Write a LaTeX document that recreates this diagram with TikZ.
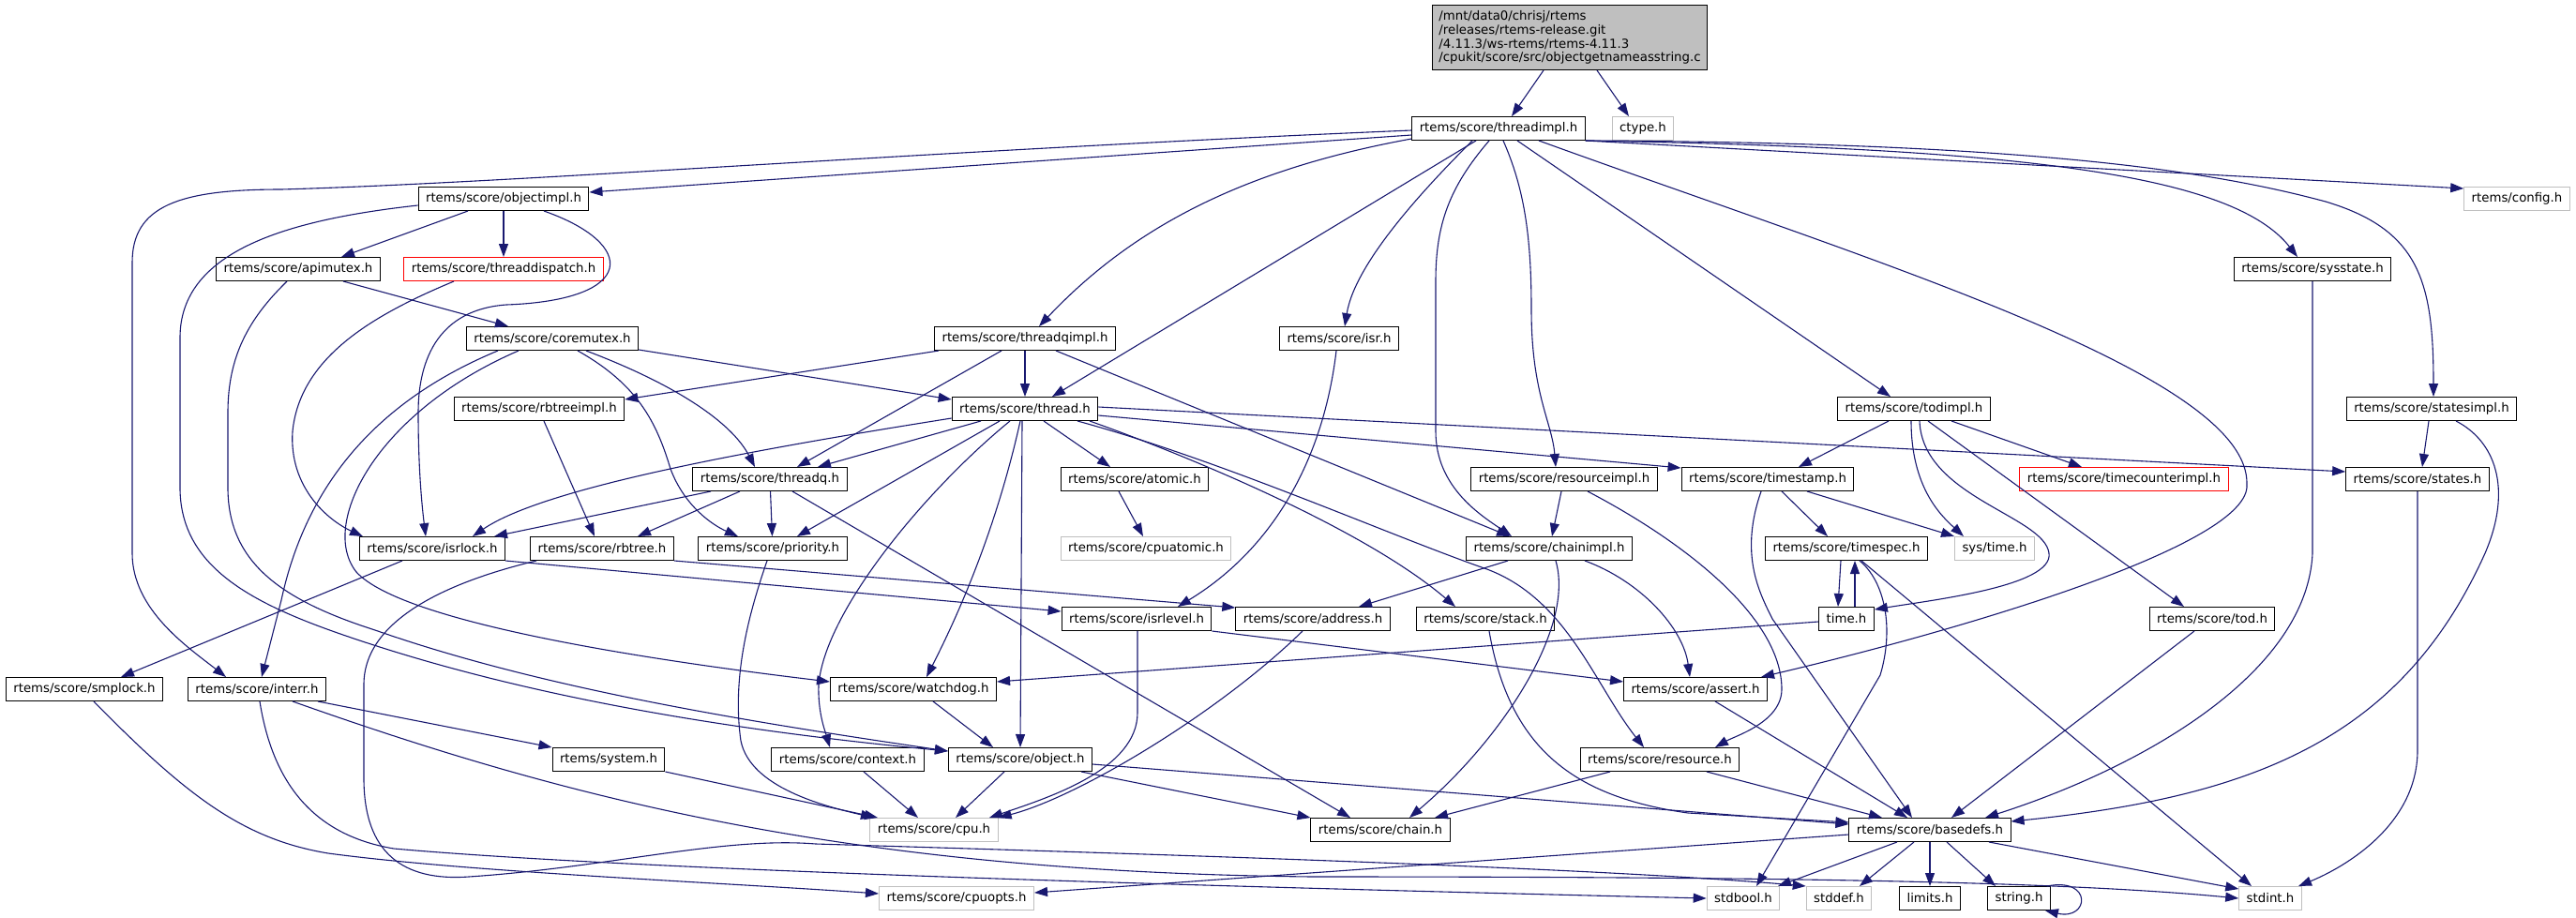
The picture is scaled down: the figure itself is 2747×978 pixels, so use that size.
\documentclass[tikz,border=0pt]{standalone}
\usepackage{fontspec}
\setmainfont{DejaVu Sans}
\usetikzlibrary{arrows.meta}
\definecolor{navyedge}{HTML}{191970}
\begin{document}
\begin{tikzpicture}[x=1pt,y=1pt]
\tikzset{
  hfile/.style={draw=black, fill=white, line width=1pt, inner xsep=8pt, inner ysep=0pt,
    minimum height=25pt, font=\fontsize{13.3}{15}\selectfont},
  extfile/.style={hfile, draw=black!25},
  cutfile/.style={hfile, draw=red},
  rootfile/.style={hfile, fill=black!25, align=left, inner xsep=7pt, minimum height=69pt,
    font=\fontsize{13.3}{14.8}\selectfont},
  incl/.style={draw=navyedge, line width=1.1pt, -{Triangle[length=14pt,width=10pt]}}
}
\useasboundingbox (0,0) rectangle (2747,-978);

% les fichiers
  \node[rootfile] (root) at (1674,-40) {/mnt/data0/chrisj/rtems\\/releases/rtems-release.git\\/4.11.3/ws-rtems/rtems-4.11.3\\/cpukit/score/src/objectgetnameasstring.c};
  \node[hfile] (threadimpl) at (1598,-137) {rtems/score/threadimpl.h};
  \node[extfile] (ctype) at (1752,-137) {ctype.h};
  \node[hfile] (objectimpl) at (537,-212) {rtems/score/objectimpl.h};
  \node[extfile] (config) at (2684,-212) {rtems/config.h};
  \node[hfile] (apimutex) at (318,-287) {rtems/score/apimutex.h};
  \node[cutfile] (threaddispatch) at (537,-287) {rtems/score/threaddispatch.h};
  \node[hfile] (sysstate) at (2466,-287) {rtems/score/sysstate.h};
  \node[hfile] (coremutex) at (589,-361) {rtems/score/coremutex.h};
  \node[hfile] (threadqimpl) at (1093,-361) {rtems/score/threadqimpl.h};
  \node[hfile] (isr) at (1428,-361) {rtems/score/isr.h};
  \node[hfile] (rbtreeimpl) at (575,-436) {rtems/score/rbtreeimpl.h};
  \node[hfile] (thread) at (1093,-436) {rtems/score/thread.h};
  \node[hfile] (todimpl) at (2041,-436) {rtems/score/todimpl.h};
  \node[hfile] (statesimpl) at (2593,-436) {rtems/score/statesimpl.h};
  \node[hfile] (threadq) at (821,-511) {rtems/score/threadq.h};
  \node[hfile] (atomic) at (1210,-511) {rtems/score/atomic.h};
  \node[hfile] (resourceimpl) at (1668,-511) {rtems/score/resourceimpl.h};
  \node[hfile] (timestamp) at (1885,-511) {rtems/score/timestamp.h};
  \node[cutfile] (timecounterimpl) at (2265,-511) {rtems/score/timecounterimpl.h};
  \node[hfile] (states) at (2578,-511) {rtems/score/states.h};
  \node[hfile] (isrlock) at (461,-585) {rtems/score/isrlock.h};
  \node[hfile] (rbtree) at (642,-585) {rtems/score/rbtree.h};
  \node[hfile] (priority) at (824,-585) {rtems/score/priority.h};
  \node[extfile] (cpuatomic) at (1222,-585) {rtems/score/cpuatomic.h};
  \node[hfile] (chainimpl) at (1652,-585) {rtems/score/chainimpl.h};
  \node[hfile] (timespec) at (1969,-585) {rtems/score/timespec.h};
  \node[extfile] (systime) at (2127,-585) {sys/time.h};
  \node[hfile] (isrlevel) at (1212,-660) {rtems/score/isrlevel.h};
  \node[hfile] (address) at (1400,-660) {rtems/score/address.h};
  \node[hfile] (stack) at (1584,-660) {rtems/score/stack.h};
  \node[hfile] (time) at (1969,-660) {time.h};
  \node[hfile] (tod) at (2359,-660) {rtems/score/tod.h};
  \node[hfile] (smplock) at (90,-735) {rtems/score/smplock.h};
  \node[hfile] (interr) at (274,-735) {rtems/score/interr.h};
  \node[hfile] (watchdog) at (974,-735) {rtems/score/watchdog.h};
  \node[hfile] (assert) at (1808,-735) {rtems/score/assert.h};
  \node[hfile] (system) at (649,-810) {rtems/system.h};
  \node[hfile] (context) at (904,-810) {rtems/score/context.h};
  \node[hfile] (object) at (1088,-810) {rtems/score/object.h};
  \node[hfile] (resource) at (1770,-810) {rtems/score/resource.h};
  \node[extfile] (cpu) at (996,-885) {rtems/score/cpu.h};
  \node[hfile] (chain) at (1472,-885) {rtems/score/chain.h};
  \node[hfile] (basedefs) at (2058,-885) {rtems/score/basedefs.h};
  \node[extfile] (cpuopts) at (1020,-958) {rtems/score/cpuopts.h};
  \node[extfile] (stdbool) at (1859,-958) {stdbool.h};
  \node[extfile] (stddef) at (1961,-958) {stddef.h};
  \node[hfile] (limits) at (2058,-958) {limits.h};
  \node[hfile] (string) at (2153,-958) {string.h};
  \node[extfile] (stdint) at (2421,-958) {stdint.h};

% le fichier source
  \draw[incl] ([xshift=-28pt]root.south) -- ([xshift=14pt]threadimpl.north);
  \draw[incl] ([xshift=29pt]root.south) -- ([xshift=-15pt]ctype.north);

% threadimpl.h
  \draw[incl] ([yshift=-7pt]threadimpl.west) -- ([yshift=7pt]objectimpl.east);
  \draw[incl] ([yshift=-2pt]threadimpl.west) .. controls (1000,-160) and (550,-195) .. (300,-202)
    .. controls (190,-202) and (141,-220) .. (141,-280) -- (141,-590)
    .. controls (141,-650) and (200,-690) .. ([xshift=-33pt]interr.north);
  \draw[incl] ([yshift=-11pt]threadimpl.west) .. controls (1330,-180) and (1210,-240) .. ([xshift=15pt]threadqimpl.north);
  \draw[incl] ([xshift=-24pt]threadimpl.south) -- ([xshift=29pt]thread.north);
  \draw[incl] ([xshift=-28pt]threadimpl.south) .. controls (1520,-200) and (1445,-280) .. ([xshift=6pt]isr.north);
  \draw[incl] ([xshift=-10pt]threadimpl.south) .. controls (1545,-200) and (1531,-240) .. (1531,-300) -- (1531,-460)
    .. controls (1531,-520) and (1580,-550) .. ([xshift=-40pt]chainimpl.north);
  \draw[incl] ([xshift=5pt]threadimpl.south) .. controls (1625,-200) and (1633,-250) .. (1633,-330)
    .. controls (1633,-420) and (1655,-450) .. ([xshift=-9pt]resourceimpl.north);
  \draw[incl] ([xshift=20pt]threadimpl.south) -- ([xshift=-25pt]todimpl.north);
  \draw[incl] ([xshift=43pt]threadimpl.south) .. controls (2000,-280) and (2400,-400) .. (2396,-517)
    .. controls (2400,-580) and (2100,-670) .. ([xshift=70pt]assert.north);
  \draw[incl] (threadimpl.south east) -- ([yshift=11pt]config.west);
  \draw[incl] (threadimpl.south east) .. controls (2150,-158) and (2380,-185) .. ([xshift=-16pt]sysstate.north);
  \draw[incl] (threadimpl.south east) .. controls (2150,-152) and (2350,-180) .. (2480,-215)
    .. controls (2580,-245) and (2595,-300) .. ([xshift=2pt]statesimpl.north);

% objectimpl.h, apimutex.h, threaddispatch.h
  \draw[incl] ([xshift=-38pt]objectimpl.south) -- ([xshift=46pt]apimutex.north);
  \draw[incl] (objectimpl) -- (threaddispatch);
  \draw[incl] ([xshift=43pt]objectimpl.south) .. controls (680,-260) and (680,-320) .. (540,-325)
    .. controls (470,-330) and (446,-380) .. (446,-440) .. controls (446,-500) and (450,-540) .. ([xshift=-7pt]isrlock.north);
  \draw[incl] ([yshift=-7pt]objectimpl.west) .. controls (300,-235) and (192,-270) .. (192,-360) -- (192,-520)
    .. controls (192,-600) and (260,-640) .. (360,-675) .. controls (560,-745) and (790,-780) .. ([yshift=9pt]object.west);
  \draw[incl] ([xshift=48pt]apimutex.south) -- ([xshift=-47pt]coremutex.north);
  \draw[incl] ([xshift=-12pt]apimutex.south) .. controls (265,-340) and (243,-380) .. (243,-440) -- (243,-520)
    .. controls (243,-600) and (300,-640) .. (400,-672) .. controls (580,-735) and (800,-770) .. ([yshift=9pt]object.west);
  \draw[incl] ([xshift=-53pt]threaddispatch.south) .. controls (400,-335) and (320,-380) .. (312,-460)
    .. controls (308,-520) and (350,-555) .. ([xshift=-74pt]isrlock.north);

% coremutex.h, threadqimpl.h, rbtreeimpl.h
  \draw[incl] ([xshift=-58pt]coremutex.south) .. controls (420,-420) and (330,-500) .. (300,-640) -- ([xshift=5pt]interr.north);
  \draw[incl] ([xshift=-36pt]coremutex.south) .. controls (400,-440) and (340,-560) .. (380,-610)
    .. controls (430,-665) and (700,-705) .. ([yshift=8pt]watchdog.west);
  \draw[incl] ([yshift=-12pt]coremutex.east) -- ([yshift=10pt]thread.west);
  \draw[incl] ([xshift=36pt]coremutex.south) .. controls (720,-410) and (780,-450) .. ([xshift=-16pt]threadq.north);
  \draw[incl] ([xshift=27pt]coremutex.south) .. controls (680,-410) and (700,-450) .. (715,-500)
    .. controls (730,-540) and (760,-560) .. ([xshift=-37pt]priority.north);
  \draw[incl] ([xshift=5pt]threadqimpl.south west) -- ([yshift=10pt]rbtreeimpl.east);
  \draw[incl] ([xshift=-25pt]threadqimpl.south) -- ([xshift=29pt]threadq.north);
  \draw[incl] (threadqimpl) -- (thread);
  \draw[incl] ([xshift=33pt]threadqimpl.south) -- ([xshift=-42pt]chainimpl.north);
  \draw[incl] ([xshift=5pt]rbtreeimpl.south) -- ([xshift=-8pt]rbtree.north);

% thread.h
  \draw[incl] ([yshift=-10pt]thread.west) .. controls (800,-480) and (580,-520) .. ([xshift=43pt]isrlock.north);
  \draw[incl] ([xshift=-47pt]thread.south) -- ([xshift=51pt]threadq.north);
  \draw[incl] ([xshift=-27pt]thread.south) -- ([xshift=26pt]priority.north);
  \draw[incl] ([xshift=20pt]thread.south) -- ([xshift=-26pt]atomic.north);
  \draw[incl] ([xshift=-16pt]thread.south) .. controls (990,-520) and (880,-650) .. (873,-730)
    .. controls (872,-760) and (880,-780) .. ([xshift=-19pt]context.north);
  \draw[incl] ([xshift=-5pt]thread.south) .. controls (1070,-530) and (1040,-620) .. ([xshift=14pt]watchdog.north);
  \draw[incl] ([xshift=-3pt]thread.south) -- (object.north);
  \draw[incl] ([yshift=2pt]thread.east) -- ([yshift=8pt]states.west);
  \draw[incl] ([yshift=-7pt]thread.east) -- ([yshift=12pt]timestamp.west);
  \draw[incl] ([xshift=56pt]thread.south) .. controls (1300,-490) and (1480,-570) .. (1580,-605)
    .. controls (1670,-635) and (1700,-730) .. ([xshift=-17pt]resource.north);
  \draw[incl] ([xshift=69pt]thread.south) .. controls (1250,-480) and (1450,-560) .. ([xshift=-32pt]stack.north);

% threadq.h, atomic.h, isr.h
  \draw[incl] ([xshift=-63pt]threadq.south) -- ([xshift=66pt]isrlock.north);
  \draw[incl] ([xshift=-32pt]threadq.south) -- ([xshift=38pt]rbtree.north);
  \draw[incl] (threadq) -- (priority);
  \draw[incl] ([xshift=24pt]threadq.south) -- ([xshift=-32pt]chain.north);
  \draw[incl] ([xshift=-17pt]atomic.south) -- ([xshift=-3pt]cpuatomic.north);
  \draw[incl] ([xshift=-3pt]isr.south) .. controls (1410,-500) and (1350,-590) .. ([xshift=44pt]isrlevel.north);

% isrlock.h, rbtree.h, priority.h
  \draw[incl] ([xshift=-32pt]isrlock.south) -- ([xshift=39pt]smplock.north);
  \draw[incl] (isrlock.south east) -- ([yshift=8pt]isrlevel.west);
  \draw[incl] (rbtree.south east) -- ([yshift=12pt]address.west);
  \draw[incl] ([xshift=-70pt]rbtree.south) .. controls (480,-620) and (388,-660) .. (388,-730) -- (388,-830)
    .. controls (388,-910) and (430,-940) .. (500,-935) .. controls (650,-925) and (770,-892) .. (870,-900)
    .. controls (1200,-910) and (1700,-925) .. (stddef.north west);
  \draw[incl] ([xshift=-6pt]priority.south) .. controls (800,-650) and (780,-720) .. (790,-790)
    .. controls (800,-840) and (880,-860) .. ([xshift=-64pt]cpu.north);

% resourceimpl.h, chainimpl.h
  \draw[incl] ([xshift=-3pt]resourceimpl.south) -- ([xshift=3pt]chainimpl.north);
  \draw[incl] ([xshift=25pt]resourceimpl.south) .. controls (1800,-580) and (1900,-660) .. (1900,-735)
    .. controls (1900,-770) and (1850,-785) .. ([xshift=59pt]resource.north);
  \draw[incl] ([xshift=-44pt]chainimpl.south) -- ([xshift=49pt]address.north);
  \draw[incl] ([xshift=7pt]chainimpl.south) .. controls (1680,-670) and (1600,-790) .. ([xshift=31pt]chain.north);
  \draw[incl] ([xshift=38pt]chainimpl.south) .. controls (1750,-620) and (1795,-670) .. ([xshift=-6pt]assert.north);

% todimpl.h, timestamp.h, timespec.h
  \draw[incl] ([xshift=-27pt]todimpl.south) -- ([xshift=33pt]timestamp.north);
  \draw[incl] ([xshift=40pt]todimpl.south) -- ([xshift=-45pt]timecounterimpl.north);
  \draw[incl] ([xshift=-3pt]todimpl.south) .. controls (2038,-520) and (2070,-550) .. ([xshift=-33pt]systime.north);
  \draw[incl] ([xshift=6pt]todimpl.south) .. controls (2050,-530) and (2180,-550) .. (2185,-590)
    .. controls (2190,-625) and (2060,-640) .. ([yshift=10pt]time.east);
  \draw[incl] ([xshift=15pt]todimpl.south) -- ([xshift=-30pt]tod.north);
  \draw[incl] ([xshift=15pt]timestamp.south) -- ([xshift=-20pt]timespec.north);
  \draw[incl] ([xshift=42pt]timestamp.south) -- (systime.north west);
  \draw[incl] ([xshift=-7pt]timestamp.south) .. controls (1855,-590) and (1875,-630) .. (1890,-660) -- ([xshift=-19pt]basedefs.north);
  \draw[incl] ([xshift=-6pt]timespec.south) -- ([xshift=-9pt]time.north);
  \draw[incl] ([xshift=9pt]time.north) -- ([xshift=9pt]timespec.south);
  \draw[incl] ([xshift=14pt]timespec.south) .. controls (2010,-620) and (2020,-670) .. (2005,-720) -- ([xshift=14pt]stdbool.north);
  \draw[incl] ([xshift=16pt]timespec.south) -- ([xshift=-20pt]stdint.north);
  \draw[incl] ([yshift=-3pt]time.west) -- ([yshift=8pt]watchdog.east);

% statesimpl.h, states.h, sysstate.h, tod.h
  \draw[incl] ([xshift=-3pt]statesimpl.south) -- ([xshift=5pt]states.north);
  \draw[incl] ([xshift=26pt]statesimpl.south) .. controls (2660,-470) and (2680,-520) .. (2650,-590)
    .. controls (2560,-790) and (2400,-850) .. ([yshift=9pt]basedefs.east);
  \draw[incl] (states.south) -- (2578,-800) .. controls (2578,-880) and (2500,-925) .. ([xshift=30pt]stdint.north);
  \draw[incl] (sysstate.south) -- (2466,-590) .. controls (2460,-720) and (2280,-820) .. ([xshift=59pt]basedefs.north);
  \draw[incl] ([xshift=-19pt]tod.south) -- ([xshift=23pt]basedefs.north);

% isrlevel.h, address.h, stack.h, watchdog.h
  \draw[incl] ([xshift=1pt]isrlevel.south) -- (1213,-760) .. controls (1213,-820) and (1120,-850) .. ([xshift=59pt]cpu.north);
  \draw[incl] (isrlevel.south east) -- ([yshift=8pt]assert.west);
  \draw[incl] ([xshift=-11pt]address.south) .. controls (1300,-760) and (1150,-850) .. (cpu.north east);
  \draw[incl] ([xshift=4pt]stack.south) .. controls (1610,-800) and (1680,-850) .. (1800,-867) -- ([yshift=8pt]basedefs.west);
  \draw[incl] ([xshift=21pt]watchdog.south) -- ([xshift=-29pt]object.north);

% interr.h, smplock.h
  \draw[incl] ([xshift=65pt]interr.south) -- (system.north west);
  \draw[incl] ([xshift=3pt]interr.south) .. controls (290,-830) and (330,-890) .. (420,-905)
    .. controls (700,-930) and (1400,-948) .. (stdbool.west);
  \draw[incl] ([xshift=38pt]interr.south) .. controls (600,-850) and (900,-930) .. (1400,-935)
    .. controls (1900,-935) and (2200,-940) .. (stdint.west);
  \draw[incl] ([xshift=10pt]smplock.south) .. controls (200,-850) and (260,-895) .. (350,-910)
    .. controls (500,-930) and (750,-940) .. ([yshift=5pt]cpuopts.west);

% system.h, context.h, object.h, assert.h, resource.h
  \draw[incl] (system.south east) -- ([xshift=-60pt]cpu.north);
  \draw[incl] ([xshift=17pt]context.south) -- ([xshift=-17pt]cpu.north);
  \draw[incl] ([xshift=-17pt]object.south) -- ([xshift=23pt]cpu.north);
  \draw[incl] ([xshift=65pt]object.south) -- (chain.north west);
  \draw[incl] ([yshift=-5pt]object.east) -- ([yshift=6pt]basedefs.west);
  \draw[incl] ([xshift=21pt]assert.south) -- ([xshift=-24pt]basedefs.north);
  \draw[incl] ([xshift=-53pt]resource.south) -- ([xshift=58pt]chain.north);
  \draw[incl] ([xshift=50pt]resource.south) -- ([xshift=-51pt]basedefs.north);

% basedefs.h
  \draw[incl] ([yshift=-5pt]basedefs.west) -- ([yshift=6pt]cpuopts.east);
  \draw[incl] ([xshift=-35pt]basedefs.south) -- ([xshift=37pt]stdbool.north);
  \draw[incl] ([xshift=-17pt]basedefs.south) -- ([xshift=22pt]stddef.north);
  \draw[incl] (basedefs) -- (limits);
  \draw[incl] ([xshift=18pt]basedefs.south) -- ([xshift=-25pt]string.north);
  \draw[incl] ([xshift=63pt]basedefs.south) -- ([yshift=10pt]stdint.west);
  \draw[incl] ([xshift=-4pt]string.north east) .. controls (2232,-935) and (2228,-982) .. ([xshift=-6pt]string.south east);
\end{tikzpicture}
\end{document}
